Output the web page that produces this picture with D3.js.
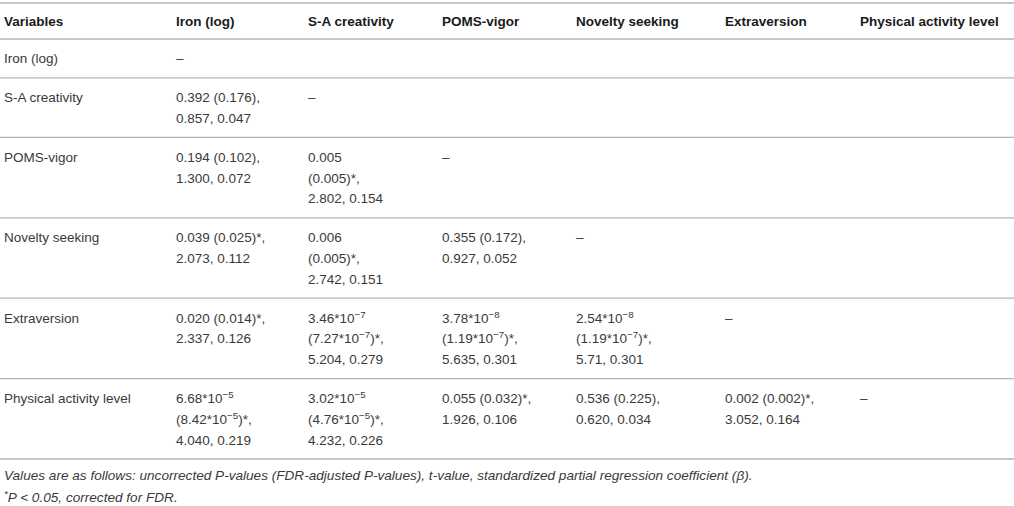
<!DOCTYPE html>
<html>

<head>
    <meta charset="utf-8">
    <style>
        body { margin: 0; background: #fff; }
        text { font-family: "Liberation Sans", Arial, sans-serif; }
        .rule { stroke: #b4b4b4; stroke-width: 1.3; }
        .head { font-weight: bold; fill: #1a1a1a; }
        .cell { fill: #3a3a3a; }
        .note { fill: #3a3a3a; font-style: italic; }
    </style>
</head>

<body>
    <svg id="container" height="506" width="1014">
        <g id="body"></g>
    </svg>
</body>
<script src="https://d3js.org/d3.v7.min.js"></script>

<script>
    // table content; "^{..}" marks a superscript
    const columns = ["Variables", "Iron (log)", "S-A creativity", "POMS-vigor",
        "Novelty seeking", "Extraversion", "Physical activity level"];
    const variables = ["Iron (log)", "S-A creativity", "POMS-vigor",
        "Novelty seeking", "Extraversion", "Physical activity level"];

    const ironRow = [["–"]];
    const creativityRow = [["0.392 (0.176),", "0.857, 0.047"], ["–"]];
    const vigorRow = [["0.194 (0.102),", "1.300, 0.072"],
        ["0.005", "(0.005)*,", "2.802, 0.154"], ["–"]];
    const noveltyRow = [["0.039 (0.025)*,", "2.073, 0.112"],
        ["0.006", "(0.005)*,", "2.742, 0.151"],
        ["0.355 (0.172),", "0.927, 0.052"], ["–"]];
    const extraversionRow = [["0.020 (0.014)*,", "2.337, 0.126"],
        ["3.46*10^{−7}", "(7.27*10^{−7})*,", "5.204, 0.279"],
        ["3.78*10^{−8}", "(1.19*10^{−7})*,", "5.635, 0.301"],
        ["2.54*10^{−8}", "(1.19*10^{−7})*,", "5.71, 0.301"], ["–"]];
    const activityRow = [["6.68*10^{−5}", "(8.42*10^{−5})*,", "4.040, 0.219"],
        ["3.02*10^{−5}", "(4.76*10^{−5})*,", "4.232, 0.226"],
        ["0.055 (0.032)*,", "1.926, 0.106"],
        ["0.536 (0.225),", "0.620, 0.034"],
        ["0.002 (0.002)*,", "3.052, 0.164"], ["–"]];
    const cells = [ironRow, creativityRow, vigorRow, noveltyRow, extraversionRow, activityRow];

    const notes = ["Values are as follows: uncorrected P-values (FDR-adjusted P-values), t-value, standardized partial regression coefficient (β).",
        "^{*}P < 0.05, corrected for FDR."];

    let body = d3.select("#body");
    let width = 1014;
    let fontSize = 13.5;
    let lineH = 20.8;
    let pad = 9;
    let headTop = 3, headH = 36;

    let x = d3.scaleOrdinal()
        .domain(d3.range(columns.length))
        .range([4, 176, 308, 442, 576, 725, 860]);

    // row tops from the number of text lines in each row
    let rowLines = cells.map((r) => d3.max(r, (c) => c.length));
    let rowH = rowLines.map((n) => pad * 2 + lineH * n);
    let rowTop = [headTop + headH];
    rowH.forEach((h, i) => rowTop.push(rowTop[i] + h));
    let y = d3.scaleOrdinal().domain(d3.range(rowTop.length)).range(rowTop);

    function richText(sel, str, size) {
        let parts = str.split(/(\^\{[^}]*\})/).filter((s) => s.length);
        let shift = 0;
        parts.forEach((p) => {
            if (p.startsWith("^{")) {
                sel.append("tspan")
                    .attr("dy", -5)
                    .attr("font-size", size * 0.72)
                    .text(p.slice(2, -1));
                shift = 5;
            } else {
                sel.append("tspan").attr("dy", shift).text(p);
                shift = 0;
            }
        });
    }

    // rules
    let rules = [headTop].concat(rowTop);
    body.append("g")
        .selectAll("line")
        .data(rules)
        .enter()
        .append("line")
            .attr("class", "rule")
            .attr("x1", 0).attr("x2", width)
            .attr("y1", (d) => d).attr("y2", (d) => d);

    // header
    body.append("g")
        .selectAll("text")
        .data(columns)
        .enter()
        .append("text")
            .attr("class", "head")
            .attr("font-size", fontSize)
            .attr("x", (d, i) => x(i))
            .attr("y", headTop + headH / 2 + 5)
            .text((d) => d);

    // body rows
    let rows = body.append("g")
        .selectAll("g")
        .data(variables)
        .enter()
        .append("g")
            .attr("transform", (d, i) => `translate(0, ${y(i) + pad + lineH / 2 + 5})`);
    rows.append("text")
        .attr("class", "cell")
        .attr("font-size", fontSize)
        .attr("x", x(0))
        .text((d) => d);
    rows.each(function (d, i) {
        let g = d3.select(this);
        cells[i].forEach((lines, j) => {
            lines.forEach((ln, k) => {
                let t = g.append("text")
                    .attr("class", "cell")
                    .attr("font-size", fontSize)
                    .attr("x", x(j + 1))
                    .attr("y", k * lineH);
                richText(t, ln, fontSize);
            });
        });
    });

    // footnotes
    let last = rowTop[rowTop.length - 1];
    notes.forEach((n, i) => {
        let t = body.append("text")
            .attr("class", "note")
            .attr("font-size", 13.6)
            .attr("x", x(0))
            .attr("y", last + 21 + i * 21.5);
        richText(t, n, 13.6);
    });
</script>

</html>
